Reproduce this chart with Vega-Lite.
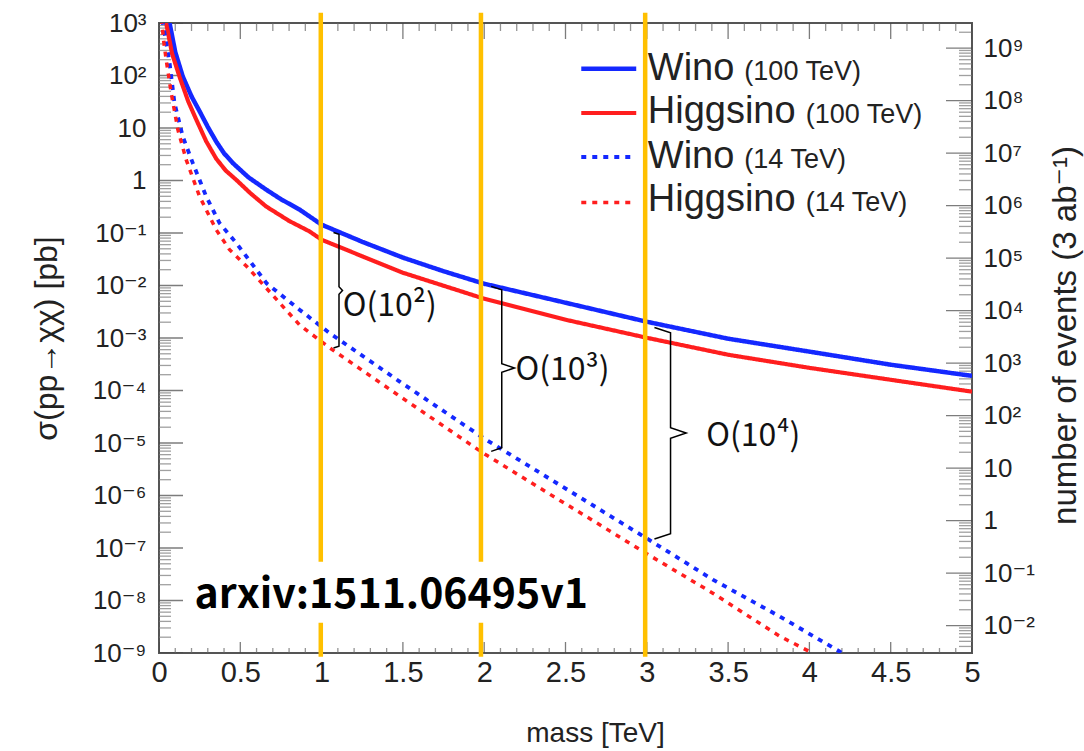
{
  "$schema": "https://vega.github.io/schema/vega-lite/v6.json",
  "width": 813,
  "height": 630,
  "autosize": "none",
  "padding": {"left": 159, "top": 23, "right": 112, "bottom": 98},
  "background": "white",
  "config": {
    "view": {"stroke": "#555", "strokeWidth": 2},
    "legend": {"disable": true},
    "axis": {
      "labelFont": "Liberation Sans, DejaVu Sans",
      "titleFont": "Liberation Sans, DejaVu Sans",
      "labelColor": "#222",
      "titleColor": "#222",
      "titleFontWeight": "normal",
      "domain": false,
      "grid": false,
      "labelOverlap": false,
      "labelFlush": false
    }
  },
  "datasets": {
    "curves": [
      {"series": "Wino (100 TeV)", "m": 0.055, "s": 1350},
      {"series": "Wino (100 TeV)", "m": 0.065, "s": 1000},
      {"series": "Wino (100 TeV)", "m": 0.1, "s": 280},
      {"series": "Wino (100 TeV)", "m": 0.146, "s": 96},
      {"series": "Wino (100 TeV)", "m": 0.2, "s": 40},
      {"series": "Wino (100 TeV)", "m": 0.249, "s": 21},
      {"series": "Wino (100 TeV)", "m": 0.3, "s": 10.5},
      {"series": "Wino (100 TeV)", "m": 0.352, "s": 5.5},
      {"series": "Wino (100 TeV)", "m": 0.4, "s": 3.3},
      {"series": "Wino (100 TeV)", "m": 0.454, "s": 2.15},
      {"series": "Wino (100 TeV)", "m": 0.55, "s": 1.15},
      {"series": "Wino (100 TeV)", "m": 0.659, "s": 0.67},
      {"series": "Wino (100 TeV)", "m": 0.75, "s": 0.44},
      {"series": "Wino (100 TeV)", "m": 0.864, "s": 0.28},
      {"series": "Wino (100 TeV)", "m": 1.0, "s": 0.144},
      {"series": "Wino (100 TeV)", "m": 1.25, "s": 0.068},
      {"series": "Wino (100 TeV)", "m": 1.5, "s": 0.034},
      {"series": "Wino (100 TeV)", "m": 1.75, "s": 0.0187},
      {"series": "Wino (100 TeV)", "m": 2.0, "s": 0.0108},
      {"series": "Wino (100 TeV)", "m": 2.5, "s": 0.0047},
      {"series": "Wino (100 TeV)", "m": 3.0, "s": 0.00204},
      {"series": "Wino (100 TeV)", "m": 3.5, "s": 0.00097},
      {"series": "Wino (100 TeV)", "m": 4.0, "s": 0.00055},
      {"series": "Wino (100 TeV)", "m": 4.5, "s": 0.00031},
      {"series": "Wino (100 TeV)", "m": 5.0, "s": 0.00019},
      {"series": "Higgsino (100 TeV)", "m": 0.035, "s": 1300},
      {"series": "Higgsino (100 TeV)", "m": 0.044, "s": 1000},
      {"series": "Higgsino (100 TeV)", "m": 0.08, "s": 263},
      {"series": "Higgsino (100 TeV)", "m": 0.126, "s": 95},
      {"series": "Higgsino (100 TeV)", "m": 0.18, "s": 32},
      {"series": "Higgsino (100 TeV)", "m": 0.229, "s": 14.5},
      {"series": "Higgsino (100 TeV)", "m": 0.29, "s": 5.6},
      {"series": "Higgsino (100 TeV)", "m": 0.352, "s": 2.6},
      {"series": "Higgsino (100 TeV)", "m": 0.41, "s": 1.55},
      {"series": "Higgsino (100 TeV)", "m": 0.475, "s": 1.03},
      {"series": "Higgsino (100 TeV)", "m": 0.56, "s": 0.58},
      {"series": "Higgsino (100 TeV)", "m": 0.659, "s": 0.32},
      {"series": "Higgsino (100 TeV)", "m": 0.8, "s": 0.17},
      {"series": "Higgsino (100 TeV)", "m": 0.926, "s": 0.107},
      {"series": "Higgsino (100 TeV)", "m": 1.0, "s": 0.0745},
      {"series": "Higgsino (100 TeV)", "m": 1.25, "s": 0.036},
      {"series": "Higgsino (100 TeV)", "m": 1.5, "s": 0.0175},
      {"series": "Higgsino (100 TeV)", "m": 2.0, "s": 0.0056},
      {"series": "Higgsino (100 TeV)", "m": 2.5, "s": 0.00223},
      {"series": "Higgsino (100 TeV)", "m": 3.0, "s": 0.00101},
      {"series": "Higgsino (100 TeV)", "m": 3.5, "s": 0.00048},
      {"series": "Higgsino (100 TeV)", "m": 4.0, "s": 0.00027},
      {"series": "Higgsino (100 TeV)", "m": 4.5, "s": 0.00016},
      {"series": "Higgsino (100 TeV)", "m": 5.0, "s": 0.000095},
      {"series": "Wino (14 TeV)", "m": 0.02, "s": 1150},
      {"series": "Wino (14 TeV)", "m": 0.034, "s": 646},
      {"series": "Wino (14 TeV)", "m": 0.065, "s": 174},
      {"series": "Wino (14 TeV)", "m": 0.095, "s": 30.2},
      {"series": "Wino (14 TeV)", "m": 0.146, "s": 6.9},
      {"series": "Wino (14 TeV)", "m": 0.208, "s": 2.14},
      {"series": "Wino (14 TeV)", "m": 0.29, "s": 0.5},
      {"series": "Wino (14 TeV)", "m": 0.372, "s": 0.155},
      {"series": "Wino (14 TeV)", "m": 0.475, "s": 0.0646},
      {"series": "Wino (14 TeV)", "m": 0.662, "s": 0.011},
      {"series": "Wino (14 TeV)", "m": 0.864, "s": 0.00347},
      {"series": "Wino (14 TeV)", "m": 1.049, "s": 0.00124},
      {"series": "Wino (14 TeV)", "m": 1.48, "s": 0.000148},
      {"series": "Wino (14 TeV)", "m": 2.012, "s": 0.0000115},
      {"series": "Wino (14 TeV)", "m": 2.627, "s": 7.8e-7},
      {"series": "Wino (14 TeV)", "m": 2.996, "s": 1.55e-7},
      {"series": "Wino (14 TeV)", "m": 3.406, "s": 2.5e-8},
      {"series": "Wino (14 TeV)", "m": 3.816, "s": 5.0e-9},
      {"series": "Wino (14 TeV)", "m": 4.185, "s": 1.07e-9},
      {"series": "Wino (14 TeV)", "m": 4.3, "s": 6e-10},
      {"series": "Higgsino (14 TeV)", "m": 0.015, "s": 1200},
      {"series": "Higgsino (14 TeV)", "m": 0.03, "s": 420},
      {"series": "Higgsino (14 TeV)", "m": 0.044, "s": 200},
      {"series": "Higgsino (14 TeV)", "m": 0.075, "s": 46.8},
      {"series": "Higgsino (14 TeV)", "m": 0.116, "s": 9.3},
      {"series": "Higgsino (14 TeV)", "m": 0.167, "s": 2.5},
      {"series": "Higgsino (14 TeV)", "m": 0.249, "s": 0.5},
      {"series": "Higgsino (14 TeV)", "m": 0.352, "s": 0.115},
      {"series": "Higgsino (14 TeV)", "m": 0.434, "s": 0.048},
      {"series": "Higgsino (14 TeV)", "m": 0.54, "s": 0.023},
      {"series": "Higgsino (14 TeV)", "m": 0.864, "s": 0.00178},
      {"series": "Higgsino (14 TeV)", "m": 1.049, "s": 0.00065},
      {"series": "Higgsino (14 TeV)", "m": 1.48, "s": 0.000078},
      {"series": "Higgsino (14 TeV)", "m": 1.991, "s": 0.0000065},
      {"series": "Higgsino (14 TeV)", "m": 2.443, "s": 8.9e-7},
      {"series": "Higgsino (14 TeV)", "m": 2.627, "s": 4.0e-7},
      {"series": "Higgsino (14 TeV)", "m": 2.996, "s": 7.9e-8},
      {"series": "Higgsino (14 TeV)", "m": 3.406, "s": 1.38e-8},
      {"series": "Higgsino (14 TeV)", "m": 3.816, "s": 2.1e-9},
      {"series": "Higgsino (14 TeV)", "m": 4.0, "s": 1.07e-9},
      {"series": "Higgsino (14 TeV)", "m": 4.1, "s": 6e-10}
    ],
    "legend": [
      {"series": "Wino (100 TeV)", "x1": 2.597, "x2": 2.935, "ly": 134.8, "tx": 3.006, "ty": 83.2, "name": "Wino", "sub": "(100 TeV)", "sx": 3.6},
      {"series": "Higgsino (100 TeV)", "x1": 2.597, "x2": 2.935, "ly": 19.3, "tx": 3.006, "ty": 12.45, "name": "Higgsino", "sub": "(100 TeV)", "sx": 3.977},
      {"series": "Wino (14 TeV)", "x1": 2.597, "x2": 2.935, "ly": 2.8, "tx": 3.006, "ty": 1.73, "name": "Wino", "sub": "(14 TeV)", "sx": 3.6},
      {"series": "Higgsino (14 TeV)", "x1": 2.597, "x2": 2.935, "ly": 0.383, "tx": 3.006, "ty": 0.258, "name": "Higgsino", "sub": "(14 TeV)", "sx": 3.977}
    ],
    "guides": [
      {"m": 0.995, "s1": 1571, "s2": 8.5e-10},
      {"m": 1.98, "s1": 1571, "s2": 8.5e-10},
      {"m": 2.99, "s1": 1571, "s2": 8.5e-10}
    ],
    "box": [{"m1": 0.1876, "m2": 2.678, "s1": 5.48e-8, "s2": 3.78e-9}],
    "arxiv": [{"label": "arxiv:1511.06495v1", "m": 0.2186, "s": 7.19e-9}],
    "braces": [
      {"b": 1, "i": 1, "m": 1.0732, "s": 0.1026},
      {"b": 1, "i": 2, "m": 1.107, "s": 0.0948},
      {"b": 1, "i": 3, "m": 1.107, "s": 0.00948},
      {"b": 1, "i": 4, "m": 1.1285, "s": 0.00807},
      {"b": 1, "i": 5, "m": 1.107, "s": 0.00682},
      {"b": 1, "i": 6, "m": 1.107, "s": 0.000698},
      {"b": 1, "i": 7, "m": 1.0732, "s": 0.000645},
      {"b": 2, "i": 1, "m": 2.043, "s": 0.00961},
      {"b": 2, "i": 2, "m": 2.108, "s": 0.00832},
      {"b": 2, "i": 3, "m": 2.108, "s": 0.000324},
      {"b": 2, "i": 4, "m": 2.186, "s": 0.000268},
      {"b": 2, "i": 5, "m": 2.108, "s": 0.000223},
      {"b": 2, "i": 6, "m": 2.108, "s": 0.00000813},
      {"b": 2, "i": 7, "m": 2.043, "s": 0.00000692},
      {"b": 3, "i": 1, "m": 3.047, "s": 0.00159},
      {"b": 3, "i": 2, "m": 3.146, "s": 0.00126},
      {"b": 3, "i": 3, "m": 3.146, "s": 0.0000195},
      {"b": 3, "i": 4, "m": 3.242, "s": 0.0000155},
      {"b": 3, "i": 5, "m": 3.146, "s": 0.0000123},
      {"b": 3, "i": 6, "m": 3.146, "s": 1.87e-7},
      {"b": 3, "i": 7, "m": 3.047, "s": 1.48e-7}
    ],
    "notes": [
      {"label": "O(10²)", "m": 1.13, "s": 0.00258},
      {"label": "O(10³)", "m": 2.192, "s": 0.000161},
      {"label": "O(10⁴)", "m": 3.365, "s": 0.00000889}
    ],
    "xticks": [
      {"v": 0}, {"v": 0.1}, {"v": 0.2}, {"v": 0.3}, {"v": 0.4}, {"v": 0.5}, {"v": 0.6}, {"v": 0.7}, {"v": 0.8}, {"v": 0.9},
      {"v": 1}, {"v": 1.1}, {"v": 1.2}, {"v": 1.3}, {"v": 1.4}, {"v": 1.5}, {"v": 1.6}, {"v": 1.7}, {"v": 1.8}, {"v": 1.9},
      {"v": 2}, {"v": 2.1}, {"v": 2.2}, {"v": 2.3}, {"v": 2.4}, {"v": 2.5}, {"v": 2.6}, {"v": 2.7}, {"v": 2.8}, {"v": 2.9},
      {"v": 3}, {"v": 3.1}, {"v": 3.2}, {"v": 3.3}, {"v": 3.4}, {"v": 3.5}, {"v": 3.6}, {"v": 3.7}, {"v": 3.8}, {"v": 3.9},
      {"v": 4}, {"v": 4.1}, {"v": 4.2}, {"v": 4.3}, {"v": 4.4}, {"v": 4.5}, {"v": 4.6}, {"v": 4.7}, {"v": 4.8}, {"v": 4.9}, {"v": 5}
    ],
    "lticks": [
      {"v": 1e-9}, {"v": 2e-9}, {"v": 3e-9}, {"v": 4e-9}, {"v": 5e-9}, {"v": 6e-9}, {"v": 7e-9}, {"v": 8e-9}, {"v": 9e-9},
      {"v": 1e-8}, {"v": 2e-8}, {"v": 3e-8}, {"v": 4e-8}, {"v": 5e-8}, {"v": 6e-8}, {"v": 7e-8}, {"v": 8e-8}, {"v": 9e-8},
      {"v": 1e-7}, {"v": 2e-7}, {"v": 3e-7}, {"v": 4e-7}, {"v": 5e-7}, {"v": 6e-7}, {"v": 7e-7}, {"v": 8e-7}, {"v": 9e-7},
      {"v": 1e-6}, {"v": 2e-6}, {"v": 3e-6}, {"v": 4e-6}, {"v": 5e-6}, {"v": 6e-6}, {"v": 7e-6}, {"v": 8e-6}, {"v": 9e-6},
      {"v": 1e-5}, {"v": 2e-5}, {"v": 3e-5}, {"v": 4e-5}, {"v": 5e-5}, {"v": 6e-5}, {"v": 7e-5}, {"v": 8e-5}, {"v": 9e-5},
      {"v": 1e-4}, {"v": 2e-4}, {"v": 3e-4}, {"v": 4e-4}, {"v": 5e-4}, {"v": 6e-4}, {"v": 7e-4}, {"v": 8e-4}, {"v": 9e-4},
      {"v": 0.001}, {"v": 0.002}, {"v": 0.003}, {"v": 0.004}, {"v": 0.005}, {"v": 0.006}, {"v": 0.007}, {"v": 0.008}, {"v": 0.009},
      {"v": 0.01}, {"v": 0.02}, {"v": 0.03}, {"v": 0.04}, {"v": 0.05}, {"v": 0.06}, {"v": 0.07}, {"v": 0.08}, {"v": 0.09},
      {"v": 0.1}, {"v": 0.2}, {"v": 0.3}, {"v": 0.4}, {"v": 0.5}, {"v": 0.6}, {"v": 0.7}, {"v": 0.8}, {"v": 0.9},
      {"v": 1}, {"v": 2}, {"v": 3}, {"v": 4}, {"v": 5}, {"v": 6}, {"v": 7}, {"v": 8}, {"v": 9},
      {"v": 10}, {"v": 20}, {"v": 30}, {"v": 40}, {"v": 50}, {"v": 60}, {"v": 70}, {"v": 80}, {"v": 90},
      {"v": 100}, {"v": 200}, {"v": 300}, {"v": 400}, {"v": 500}, {"v": 600}, {"v": 700}, {"v": 800}, {"v": 900},
      {"v": 1000}
    ],
    "rticks": [
      {"v": 0.004}, {"v": 0.005}, {"v": 0.006}, {"v": 0.007}, {"v": 0.008}, {"v": 0.009},
      {"v": 0.01}, {"v": 0.02}, {"v": 0.03}, {"v": 0.04}, {"v": 0.05}, {"v": 0.06}, {"v": 0.07}, {"v": 0.08}, {"v": 0.09},
      {"v": 0.1}, {"v": 0.2}, {"v": 0.3}, {"v": 0.4}, {"v": 0.5}, {"v": 0.6}, {"v": 0.7}, {"v": 0.8}, {"v": 0.9},
      {"v": 1}, {"v": 2}, {"v": 3}, {"v": 4}, {"v": 5}, {"v": 6}, {"v": 7}, {"v": 8}, {"v": 9},
      {"v": 10}, {"v": 20}, {"v": 30}, {"v": 40}, {"v": 50}, {"v": 60}, {"v": 70}, {"v": 80}, {"v": 90},
      {"v": 100}, {"v": 200}, {"v": 300}, {"v": 400}, {"v": 500}, {"v": 600}, {"v": 700}, {"v": 800}, {"v": 900},
      {"v": 1000}, {"v": 2000}, {"v": 3000}, {"v": 4000}, {"v": 5000}, {"v": 6000}, {"v": 7000}, {"v": 8000}, {"v": 9000},
      {"v": 1e4}, {"v": 2e4}, {"v": 3e4}, {"v": 4e4}, {"v": 5e4}, {"v": 6e4}, {"v": 7e4}, {"v": 8e4}, {"v": 9e4},
      {"v": 1e5}, {"v": 2e5}, {"v": 3e5}, {"v": 4e5}, {"v": 5e5}, {"v": 6e5}, {"v": 7e5}, {"v": 8e5}, {"v": 9e5},
      {"v": 1e6}, {"v": 2e6}, {"v": 3e6}, {"v": 4e6}, {"v": 5e6}, {"v": 6e6}, {"v": 7e6}, {"v": 8e6}, {"v": 9e6},
      {"v": 1e7}, {"v": 2e7}, {"v": 3e7}, {"v": 4e7}, {"v": 5e7}, {"v": 6e7}, {"v": 7e7}, {"v": 8e7}, {"v": 9e7},
      {"v": 1e8}, {"v": 2e8}, {"v": 3e8}, {"v": 4e8}, {"v": 5e8}, {"v": 6e8}, {"v": 7e8}, {"v": 8e8}, {"v": 9e8},
      {"v": 1e9}, {"v": 2e9}
    ],
    "dummy": [{"m": 1, "s": 1}]
  },
  "resolve": {
    "scale": {"y": "independent"},
    "axis": {"x": "independent", "y": "independent"}
  },
  "layer": [
    {
      "data": {"name": "lticks"},
      "mark": {"type": "tick", "orient": "horizontal", "clip": true, "thickness": 1.3},
      "encoding": {
        "x": {"datum": 0, "type": "quantitative", "scale": {"domain": [0, 5], "nice": false, "zero": false}, "axis": null},
        "y": {"field": "v", "type": "quantitative", "scale": {"type": "log", "domain": [1e-9, 1000], "nice": false}, "axis": null},
        "size": {"condition": {"test": "abs(log(datum.v)/LN10 - round(log(datum.v)/LN10)) < 0.001", "value": 48}, "value": 24},
        "color": {"condition": {"test": "abs(log(datum.v)/LN10 - round(log(datum.v)/LN10)) < 0.001", "value": "#444"}, "value": "#777"}
      }
    },
    {
      "data": {"name": "rticks"},
      "mark": {"type": "tick", "orient": "horizontal", "clip": true, "thickness": 1.3},
      "encoding": {
        "x": {"datum": 5, "type": "quantitative", "scale": {"domain": [0, 5], "nice": false, "zero": false}, "axis": null},
        "y": {"field": "v", "type": "quantitative", "scale": {"type": "log", "domain": [0.003, 3000000000], "nice": false}, "axis": null},
        "size": {"condition": {"test": "abs(log(datum.v)/LN10 - round(log(datum.v)/LN10)) < 0.001", "value": 52}, "value": 26},
        "color": {"condition": {"test": "abs(log(datum.v)/LN10 - round(log(datum.v)/LN10)) < 0.001", "value": "#444"}, "value": "#777"}
      }
    },
    {
      "data": {"name": "xticks"},
      "mark": {"type": "tick", "orient": "vertical", "clip": true, "thickness": 1.3},
      "encoding": {
        "x": {"field": "v", "type": "quantitative", "scale": {"domain": [0, 5], "nice": false, "zero": false}, "axis": null},
        "y": {"datum": 1e-9, "type": "quantitative", "scale": {"type": "log", "domain": [1e-9, 1000], "nice": false}, "axis": null},
        "size": {"condition": {"test": "abs(datum.v*2 - round(datum.v*2)) < 0.01", "value": 22}, "value": 10},
        "color": {"condition": {"test": "abs(datum.v*2 - round(datum.v*2)) < 0.01", "value": "#444"}, "value": "#666"}
      }
    },
    {
      "data": {"name": "xticks"},
      "mark": {"type": "tick", "orient": "vertical", "clip": true, "thickness": 1.3},
      "encoding": {
        "x": {"field": "v", "type": "quantitative", "scale": {"domain": [0, 5], "nice": false, "zero": false}, "axis": null},
        "y": {"datum": 1000, "type": "quantitative", "scale": {"type": "log", "domain": [1e-9, 1000], "nice": false}, "axis": null},
        "size": {"condition": {"test": "abs(datum.v*2 - round(datum.v*2)) < 0.01", "value": 32}, "value": 16},
        "color": {"condition": {"test": "abs(datum.v*2 - round(datum.v*2)) < 0.01", "value": "#444"}, "value": "#666"}
      }
    },
    {
      "data": {"name": "dummy"},
      "mark": {"type": "point", "opacity": 0},
      "encoding": {
        "x": {"field": "m", "type": "quantitative", "scale": {"domain": [0, 5], "nice": false, "zero": false}, "axis": null},
        "y": {"field": "s", "type": "quantitative", "scale": {"type": "log", "domain": [0.003, 3000000000], "nice": false},
          "axis": {"orient": "right", "values": [0.01, 0.1, 1, 10, 100, 1000, 1e4, 1e5, 1e6, 1e7, 1e8, 1e9], "ticks": false,
            "labelExpr": "['10⁻²','10⁻¹','1','10','10²','10³','10⁴','10⁵','10⁶','10⁷','10⁸','10⁹'][round(log(datum.value)/LN10)+2]",
            "labelFontSize": 26, "labelPadding": 11, "labelBaseline": "middle",
            "title": "number of events (3 ab⁻¹)", "titleFontSize": 33, "titleAngle": -90,
            "titleX": 103, "titleY": 312, "titleAlign": "center", "titleBaseline": "alphabetic"}}
      }
    },
    {
      "data": {"name": "curves"},
      "mark": {"type": "line", "clip": true, "strokeCap": "butt"},
      "encoding": {
        "x": {"field": "m", "type": "quantitative", "scale": {"domain": [0, 5], "nice": false, "zero": false},
          "axis": {"orient": "bottom", "values": [0, 0.5, 1, 1.5, 2, 2.5, 3, 3.5, 4, 4.5, 5], "ticks": false,
            "labelExpr": "format(datum.value, '~g')", "labelFontSize": 29, "labelPadding": 5,
            "title": "mass [TeV]", "titleFontSize": 28, "titleX": 436, "titleY": 88, "titleAlign": "center", "titleBaseline": "alphabetic"}},
        "y": {"field": "s", "type": "quantitative", "scale": {"type": "log", "domain": [1e-9, 1000], "nice": false},
          "axis": {"orient": "left", "values": [1e-9, 1e-8, 1e-7, 1e-6, 1e-5, 1e-4, 1e-3, 0.01, 0.1, 1, 10, 100, 1000], "ticks": false,
            "labelExpr": "['10⁻⁹','10⁻⁸','10⁻⁷','10⁻⁶','10⁻⁵','10⁻⁴','10⁻³','10⁻²','10⁻¹','1','10','10²','10³'][round(log(datum.value)/LN10)+9]",
            "labelFontSize": 26, "labelPadding": 13, "labelBaseline": "middle",
            "title": "σ(pp→χχ) [pb]", "titleFontSize": 32, "titleAngle": -90,
            "titleX": -103, "titleY": 315, "titleAlign": "center", "titleBaseline": "alphabetic"}},
        "color": {"field": "series", "type": "nominal", "legend": null,
          "scale": {"domain": ["Wino (100 TeV)", "Higgsino (100 TeV)", "Wino (14 TeV)", "Higgsino (14 TeV)"], "range": ["#1428ff", "#ff1e1e", "#1428ff", "#ff1e1e"]}},
        "strokeDash": {"field": "series", "type": "nominal", "legend": null,
          "scale": {"domain": ["Wino (100 TeV)", "Higgsino (100 TeV)", "Wino (14 TeV)", "Higgsino (14 TeV)"], "range": [[1, 0], [1, 0], [5, 6], [5, 6]]}},
        "strokeWidth": {"field": "series", "type": "nominal", "legend": null,
          "scale": {"domain": ["Wino (100 TeV)", "Higgsino (100 TeV)", "Wino (14 TeV)", "Higgsino (14 TeV)"], "range": [4.5, 3.5, 4, 4]}}
      }
    },
    {
      "data": {"name": "legend"},
      "mark": {"type": "rule", "strokeCap": "butt"},
      "encoding": {
        "x": {"field": "x1", "type": "quantitative", "scale": {"domain": [0, 5], "nice": false, "zero": false}, "axis": null},
        "x2": {"field": "x2"},
        "y": {"field": "ly", "type": "quantitative", "scale": {"type": "log", "domain": [1e-9, 1000], "nice": false}, "axis": null},
        "color": {"field": "series", "type": "nominal", "legend": null},
        "strokeDash": {"field": "series", "type": "nominal", "legend": null},
        "strokeWidth": {"field": "series", "type": "nominal", "legend": null}
      }
    },
    {
      "data": {"name": "legend"},
      "mark": {"type": "text", "align": "left", "baseline": "alphabetic", "font": "Liberation Sans, DejaVu Sans", "fontSize": 38, "color": "#222"},
      "encoding": {
        "x": {"field": "tx", "type": "quantitative", "scale": {"domain": [0, 5], "nice": false, "zero": false}, "axis": null},
        "y": {"field": "ty", "type": "quantitative", "scale": {"type": "log", "domain": [1e-9, 1000], "nice": false}, "axis": null},
        "text": {"field": "name"}
      }
    },
    {
      "data": {"name": "legend"},
      "mark": {"type": "text", "align": "left", "baseline": "alphabetic", "font": "Liberation Sans, DejaVu Sans", "fontSize": 27, "color": "#222"},
      "encoding": {
        "x": {"field": "sx", "type": "quantitative", "scale": {"domain": [0, 5], "nice": false, "zero": false}, "axis": null},
        "y": {"field": "ty", "type": "quantitative", "scale": {"type": "log", "domain": [1e-9, 1000], "nice": false}, "axis": null},
        "text": {"field": "sub"}
      }
    },
    {
      "data": {"name": "guides"},
      "mark": {"type": "rule", "clip": false, "color": "#FFC000", "strokeWidth": 4.5},
      "encoding": {
        "x": {"field": "m", "type": "quantitative", "scale": {"domain": [0, 5], "nice": false, "zero": false}, "axis": null},
        "y": {"field": "s1", "type": "quantitative", "scale": {"type": "log", "domain": [1e-9, 1000], "nice": false}, "axis": null},
        "y2": {"field": "s2"}
      }
    },
    {
      "data": {"name": "box"},
      "mark": {"type": "rect", "fill": "white", "clip": false},
      "encoding": {
        "x": {"field": "m1", "type": "quantitative", "scale": {"domain": [0, 5], "nice": false, "zero": false}, "axis": null},
        "x2": {"field": "m2"},
        "y": {"field": "s1", "type": "quantitative", "scale": {"type": "log", "domain": [1e-9, 1000], "nice": false}, "axis": null},
        "y2": {"field": "s2"}
      }
    },
    {
      "data": {"name": "arxiv"},
      "mark": {"type": "text", "align": "left", "baseline": "alphabetic", "font": "Noto Sans CJK JP", "fontWeight": "bold", "fontSize": 41, "color": "#000"},
      "encoding": {
        "x": {"field": "m", "type": "quantitative", "scale": {"domain": [0, 5], "nice": false, "zero": false}, "axis": null},
        "y": {"field": "s", "type": "quantitative", "scale": {"type": "log", "domain": [1e-9, 1000], "nice": false}, "axis": null},
        "text": {"field": "label"}
      }
    },
    {
      "data": {"name": "braces"},
      "mark": {"type": "line", "color": "#000", "strokeWidth": 1.5, "clip": false},
      "encoding": {
        "x": {"field": "m", "type": "quantitative", "scale": {"domain": [0, 5], "nice": false, "zero": false}, "axis": null},
        "y": {"field": "s", "type": "quantitative", "scale": {"type": "log", "domain": [1e-9, 1000], "nice": false}, "axis": null},
        "detail": {"field": "b", "type": "nominal"},
        "order": {"field": "i", "type": "quantitative"}
      }
    },
    {
      "data": {"name": "notes"},
      "mark": {"type": "text", "align": "left", "baseline": "alphabetic", "font": "Noto Sans CJK JP", "fontSize": 32, "color": "#111"},
      "encoding": {
        "x": {"field": "m", "type": "quantitative", "scale": {"domain": [0, 5], "nice": false, "zero": false}, "axis": null},
        "y": {"field": "s", "type": "quantitative", "scale": {"type": "log", "domain": [1e-9, 1000], "nice": false}, "axis": null},
        "text": {"field": "label"}
      }
    }
  ]
}
